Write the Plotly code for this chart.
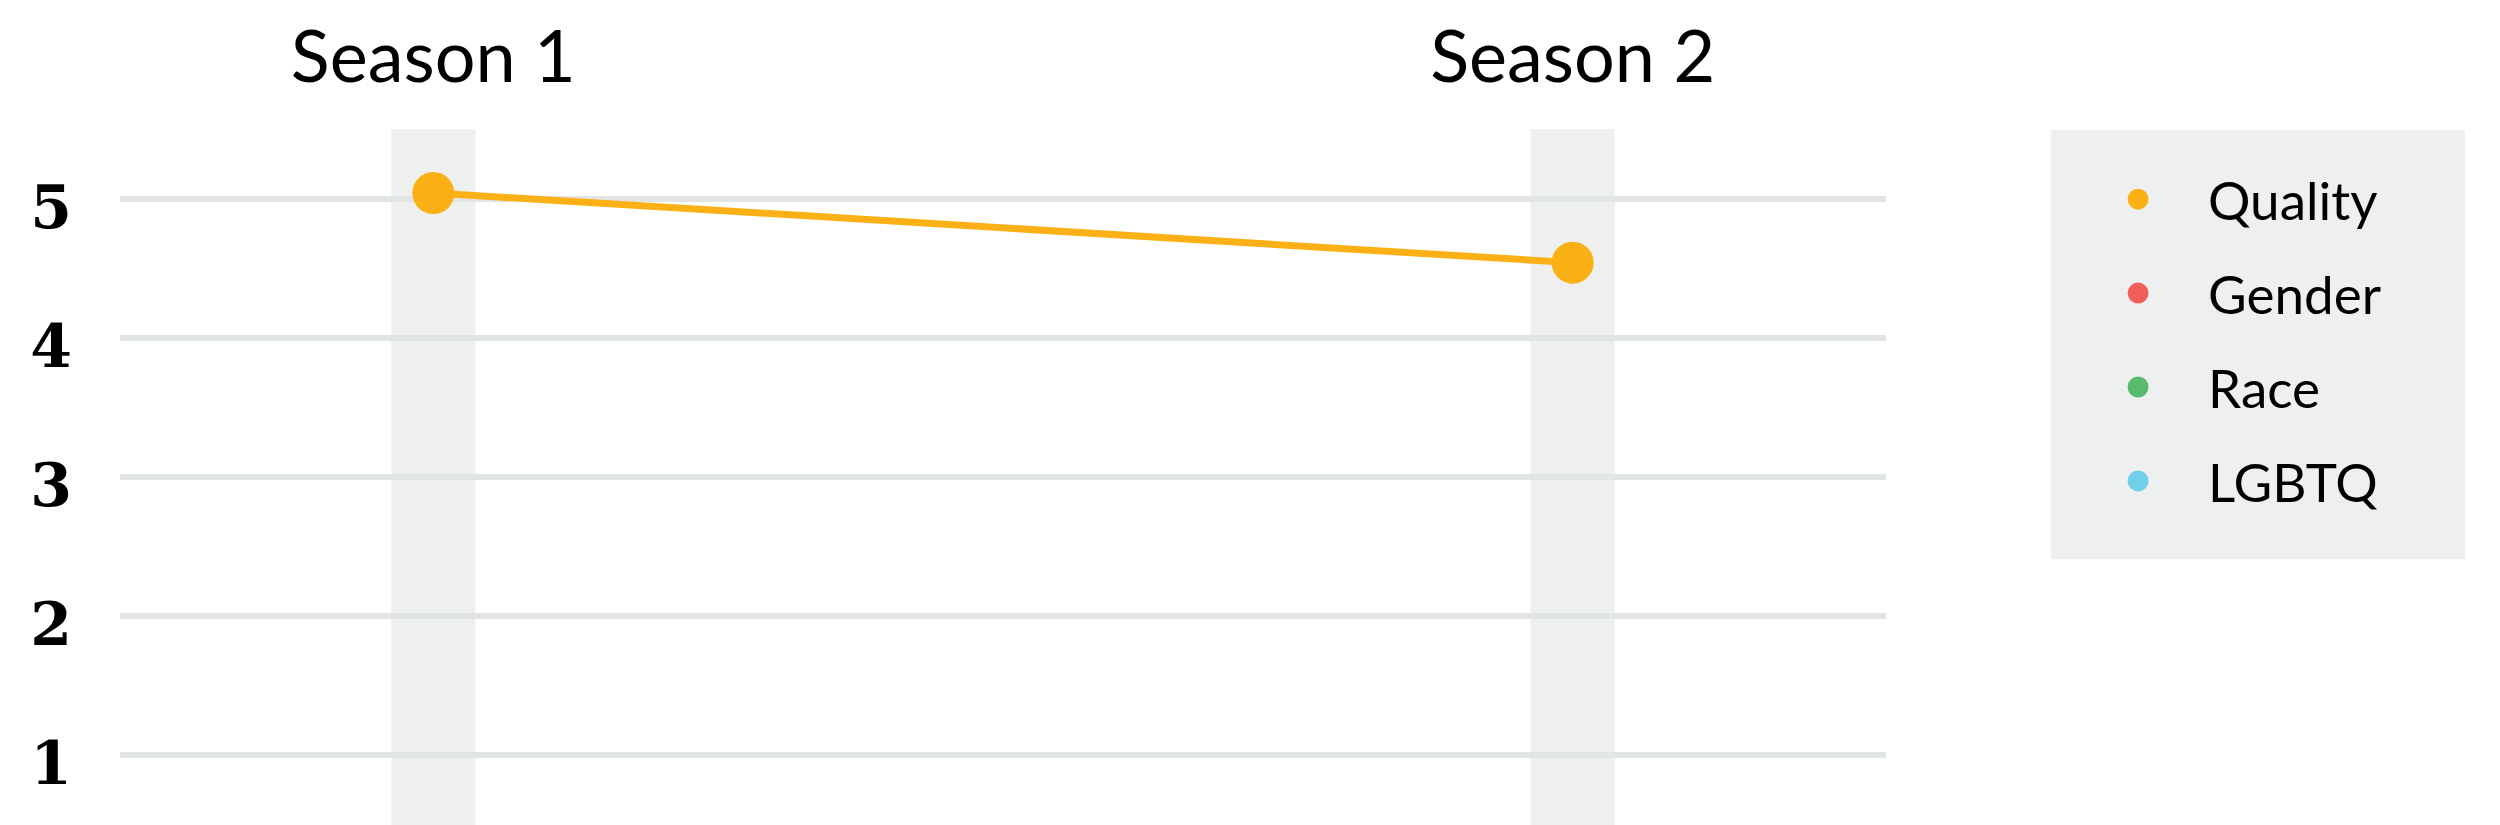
import plotly.graph_objects as go

# ---- data ----
seasons = ["Season 1", "Season 2"]
series_names = ["Quality", "Gender", "Race", "LGBTQ"]
series_values = {
    "Quality": [5.04, 4.54],
    "Gender": [None, None],
    "Race": [None, None],
    "LGBTQ": [None, None],
}
series_colors = {
    "Quality": "#fbb116",
    "Gender": "#f15f5b",
    "Race": "#5abb6e",
    "LGBTQ": "#70cfe9",
}
y_ticks = [1, 2, 3, 4, 5]

BAND = "#eef0ef"
GRID = "#e1e5e4"

fig = go.Figure()

for name in series_names:
    vals = series_values[name]
    col = series_colors[name]
    # line (no legend entry)
    fig.add_trace(go.Scatter(
        x=seasons, y=vals, mode="lines",
        line=dict(color=col, width=7),
        showlegend=False, hoverinfo="skip",
    ))
    # markers (legend entry)
    fig.add_trace(go.Scatter(
        x=seasons, y=vals, mode="markers", name=name,
        marker=dict(color=col, size=37, line=dict(color=col, width=5)),
        legendgroup=name,
    ))

# vertical highlight bands behind each season
for i, _ in enumerate(seasons):
    fig.add_shape(type="rect", xref="x", yref="paper",
                  x0=i - 0.037, x1=i + 0.037, y0=0, y1=1,
                  fillcolor=BAND, line=dict(width=0), layer="below")

# legend background panel
fig.add_shape(type="rect", xref="paper", yref="paper",
              x0=1.0933, x1=1.328, y0=0.382, y1=0.9986,
              fillcolor=BAND, line=dict(width=0), layer="below")

fig.update_layout(
    width=2492, height=817,
    margin=dict(l=112, r=614, t=121, b=0, pad=0),
    paper_bgcolor="white", plot_bgcolor="white",
    font=dict(family="Lato", color="#000000"),
    legend=dict(
        x=1.1031, xanchor="left", y=0.958, yanchor="top",
        bgcolor="rgba(0,0,0,0)", borderwidth=0,
        font=dict(family="Lato", size=53, color="#000000"),
        itemwidth=130, traceorder="grouped", tracegroupgap=22,
    ),
    xaxis=dict(
        type="category", side="top", range=[-0.275, 1.275],
        showgrid=False, zeroline=False, showline=False, ticks="",
        tickfont=dict(family="Lato", size=72, color="#000000"),
        ticklabelstandoff=32, automargin=False,
    ),
    yaxis=dict(
        range=[0.5, 5.5], tickvals=y_ticks, ticktext=[str(v) for v in y_ticks],
        showgrid=True, gridcolor=GRID, gridwidth=6,
        zeroline=False, showline=False, ticks="",
        tickfont=dict(family="DejaVu Serif", size=60, color="#000000", weight="bold"),
        ticklabelstandoff=47, ticklabelshift=8, automargin=False,
    ),
    hovermode=False,
)

fig.write_html("out.html")
